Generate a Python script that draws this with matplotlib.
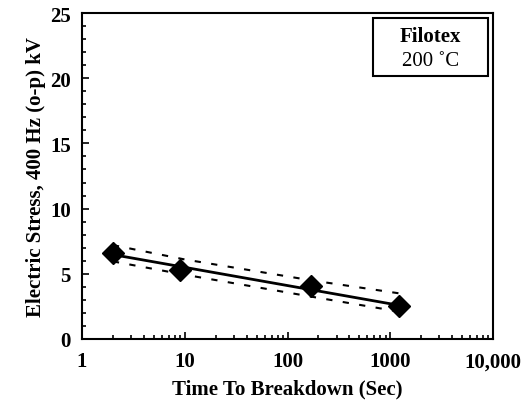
import numpy as np
import matplotlib
matplotlib.use("Agg")
import matplotlib.pyplot as plt
from matplotlib.ticker import FixedLocator, NullFormatter, LogLocator
from matplotlib.patches import Rectangle

# data
time_s = [2, 9, 170, 1225]
stress_kv = [6.6, 5.3, 4.1, 2.5]

fit_x = [2, 1225]
fit_y = [6.47, 2.58]

band_x = [2, 10, 170, 1225]
band_upper = [7.2, 6.1, 4.5, 3.5]
band_lower = [5.95, 4.93, 3.25, 2.1]

x_ticks = [1, 10, 100, 1000, 10000]
x_ticklabels = ["1", "10", "100", "1000", "10,000"]
y_ticks = [0, 5, 10, 15, 20, 25]

plt.rcParams['font.family'] = ['Liberation Serif', 'DejaVu Serif']

fig = plt.figure(figsize=(5.25, 4.02), dpi=100)
ax = fig.add_axes([82/525, 1-340/402, (493-82)/525, (340-14)/402])

ax.set_xscale('log')
ax.set_xlim(1, 10000)
ax.set_ylim(0, 25)

ax.plot(band_x, band_upper, color='black', lw=1.5, ls=(0, (3, 5)))
ax.plot(band_x, band_lower, color='black', lw=1.5, ls=(0, (3, 5)))
ax.plot(fit_x, fit_y, color='black', lw=2.0)
ax.plot(time_s, stress_kv, ls='none', marker='D', ms=11, color='black')

ax.set_xticks(x_ticks)
ax.set_xticklabels(x_ticklabels)
ax.xaxis.set_minor_locator(LogLocator(base=10, subs=np.arange(2, 10)))
ax.xaxis.set_minor_formatter(NullFormatter())
ax.set_yticks(y_ticks)
ax.yaxis.set_minor_locator(FixedLocator(np.arange(0, 26, 1)))

ax.tick_params(which='both', direction='in', labelsize=15, width=1.2)
ax.tick_params(which='major', length=5)
ax.tick_params(which='minor', length=3)
ax.tick_params(axis='x', pad=9)
ax.tick_params(axis='y', pad=8)
for lab in ax.get_xticklabels() + ax.get_yticklabels():
    lab.set_fontweight('bold')

for s in ax.spines.values():
    s.set_linewidth(1.5)

ax.set_xlabel('Time To Breakdown (Sec)', fontsize=15, fontweight='bold', labelpad=5)
ax.set_ylabel('Electric Stress, 400 Hz (o-p) kV', fontsize=15, fontweight='bold', labelpad=3)

# label box
bx0, bx1 = (373-82)/411, (488-82)/411
by0, by1 = (340-77)/326, (340-19)/326
ax.add_patch(Rectangle((bx0, by0), bx1-bx0, by1-by0, transform=ax.transAxes,
                       fc='white', ec='black', lw=1.5, zorder=5))
cx = (bx0 + bx1) / 2
ax.text(cx, (340-37)/326, 'Filotex', transform=ax.transAxes, ha='center', va='center',
        fontsize=15, fontweight='bold', zorder=6)
ax.text(cx, (340-61)/326, '200 \u02daC', transform=ax.transAxes, ha='center', va='center',
        fontsize=15, zorder=6)

fig.savefig('out.png', dpi=100)
